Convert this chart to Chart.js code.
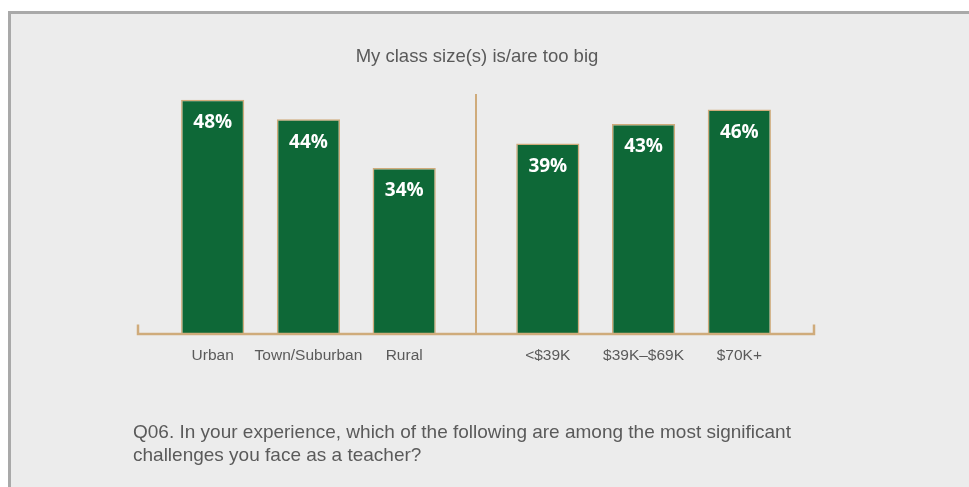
<!DOCTYPE html>
<html>
<head>
<meta charset="utf-8">
<title>My class size(s) is/are too big</title>
<script src="https://cdn.jsdelivr.net/npm/chart.js@4.4.1/dist/chart.umd.min.js"></script>
<style>
    html, body { margin: 0; padding: 0; background: #ffffff; }
    body { width: 969px; height: 487px; position: relative; overflow: hidden; }
    #panel {
        position: absolute; left: 8px; top: 11px; width: 961px; height: 476px;
        box-sizing: border-box; background: #ececec;
        border-top: 3px solid #a9a9a9; border-left: 3px solid #a9a9a9;
    }
    #chart { position: absolute; left: 0; top: 0; }
    #note {
        position: absolute; left: 133px; top: 421px; width: 780px;
        font-family: "Liberation Sans", Arial, sans-serif; font-size: 19px;
        line-height: 22.5px; color: #5a5a5a;
    }
</style>
</head>
<body>
<div id="panel"></div>
<canvas id="chart" width="969" height="487"></canvas>
<div id="note">Q06. In your experience, which of the following are among the most significant<br>challenges you face as a teacher?</div>

<script>
// Datos del gráfico
const categories = ['Urban', 'Town/Suburban', 'Rural', '<$39K', '$39K\u2013$69K', '$70K+'];
// posición de cada barra en el eje x (media unidad de hueco entre grupos)
const positions = [0, 1, 2, 3.5, 4.5, 5.5];
const percentages = [48, 44, 34, 39, 43, 46];
const chartTitle = 'My class size(s) is/are too big';

const GREEN = '#0e6837';
const TAN = '#cfab7b';
const GREY_TEXT = '#5a5a5a';

// Línea base, divisor central, título y etiquetas de valor
const decorations = {
    id: 'decorations',
    afterDatasetsDraw(chart) {
        const { ctx, chartArea, scales } = chart;
        const x = scales.x, y = scales.y;
        const base = y.getPixelForValue(0);

        ctx.save();
        ctx.strokeStyle = TAN;

        // divisor entre grupos
        ctx.lineWidth = 2;
        const midX = Math.round(x.getPixelForValue(2.75));
        ctx.beginPath();
        ctx.moveTo(midX, y.getPixelForValue(49.2));
        ctx.lineTo(midX, base);
        ctx.stroke();

        // eje horizontal con remates
        ctx.lineWidth = 2.5;
        ctx.beginPath();
        ctx.moveTo(chartArea.left, base - 9);
        ctx.lineTo(chartArea.left, base + 0.5);
        ctx.lineTo(chartArea.right, base + 0.5);
        ctx.lineTo(chartArea.right, base - 9);
        ctx.stroke();

        // valores dentro de las barras
        ctx.fillStyle = '#ffffff';
        ctx.font = 'bold 19px "Open Sans", Lato, sans-serif';
        ctx.textAlign = 'center';
        ctx.textBaseline = 'middle';
        chart.getDatasetMeta(0).data.forEach((bar, i) => {
            ctx.fillText(percentages[i] + '%', bar.x, bar.y + 23);
        });

        // título
        ctx.fillStyle = GREY_TEXT;
        ctx.font = '18.5px "Liberation Sans", Arial, sans-serif';
        ctx.textBaseline = 'alphabetic';
        ctx.fillText(chartTitle, (chartArea.left + chartArea.right) / 2 + 1, 62);
        ctx.restore();
    }
};

new Chart(document.getElementById('chart'), {
    type: 'bar',
    data: {
        datasets: [{
            data: positions.map((p, i) => ({ x: p, y: percentages[i] })),
            backgroundColor: GREEN,
            borderColor: TAN,
            borderWidth: 1.5,
            borderSkipped: 'bottom',
            categoryPercentage: 1,
            barPercentage: 0.66
        }]
    },
    options: {
        responsive: false,
        animation: false,
        layout: { padding: { left: 138, right: 155, top: 90, bottom: 109 } },
        plugins: {
            legend: { display: false },
            tooltip: { enabled: false },
            title: { display: false }
        },
        scales: {
            x: {
                type: 'linear',
                min: -0.78,
                max: 6.28,
                offset: false,
                bounds: 'ticks',
                grid: { display: false, drawTicks: false, offset: false },
                border: { display: false },
                afterBuildTicks(scale) {
                    scale.ticks = positions.map(v => ({ value: v }));
                },
                ticks: {
                    autoSkip: false,
                    maxRotation: 0,
                    padding: 13,
                    color: GREY_TEXT,
                    font: { family: '"Liberation Sans", Arial, sans-serif', size: 15.5 },
                    callback: value => categories[positions.indexOf(value)]
                }
            },
            y: {
                display: false,
                min: 0,
                max: 50
            }
        }
    },
    plugins: [decorations]
});
</script>
</body>
</html>
